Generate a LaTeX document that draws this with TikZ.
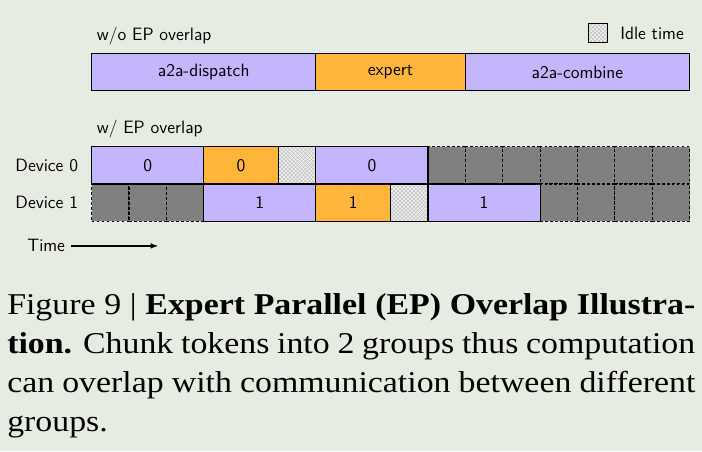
\documentclass[tikz,border=0pt]{standalone}
\usepackage{fontspec}
\newfontfamily\capfont[FakeStretch=1.12]{Liberation Serif}
\usepackage{tikz}
\usetikzlibrary{positioning, patterns}

\definecolor{bgcol}{RGB}{231,236,227}
\definecolor{commcol}{RGB}{196,181,253}
\definecolor{expcol}{RGB}{255,180,58}
\definecolor{idlecol}{RGB}{242,242,242}

\begin{document}
\begin{tikzpicture}[
        lbl/.style={font=\sffamily\fontsize{13.6}{16}\selectfont, inner sep=0pt},
        cell/.style={draw=black, line width=0.9pt, inner sep=0pt, anchor=south west,
        minimum height=1cm, font=\sffamily\fontsize{13.6}{16}\selectfont},
        comm/.style={cell, fill=commcol},
        compute/.style={cell, fill=expcol},
        idle/.style={cell, preaction={fill=idlecol}, pattern=crosshatch, pattern color=gray!50,
        minimum width=1cm},
        waitcell/.style={cell, fill=gray, dash pattern=on 2.2pt off 1.6pt, minimum width=1cm}]
        % background and page size
        \fill[bgcol] (-2.435,-6.127) rectangle (16.348,5.94);
        \useasboundingbox (-2.435,-6.127) rectangle (16.348,5.94);

        % without overlap
        \node[lbl, anchor=west] (woep) at (0.15,4.98) {w/o EP overlap};
        \node[comm, minimum width=6cm] (dispatch) at (0,3.5) {a2a-dispatch};
        \node[compute, minimum width=4cm] (expert) at (6,3.5) {expert};
        \node[comm, minimum width=6cm] (combine) at (10,3.5) {a2a-combine};

        % legend
        \node[idle, anchor=center, minimum width=0.5cm, minimum height=0.5cm] (legbox) at (13.57,5.06) {};
        \node[lbl, right=0.32cm of legbox] (legtxt) {Idle time};

        % with overlap
        \node[lbl, anchor=west] (wep) at (0.15,2.49) {w/ EP overlap};
        \foreach \x in {9,...,15}
            \node[waitcell] (w0\x) at (\x,1) {};
        \foreach \x in {0,1,2,12,13,14,15}
            \node[waitcell] (w1\x) at (\x,0) {};

        \node[comm, minimum width=3cm] (d0disp) at (0,1) {0};
        \node[compute, minimum width=2cm] (d0exp) at (3,1) {0};
        \node[idle] (d0idle) at (5,1) {};
        \node[comm, minimum width=3cm] (d0comb) at (6,1) {0};

        \node[comm, minimum width=3cm] (d1disp) at (3,0) {1};
        \node[compute, minimum width=2cm] (d1exp) at (6,0) {1};
        \node[idle] (d1idle) at (8,0) {};
        \node[comm, minimum width=3cm] (d1comb) at (9,0) {1};

        \node[lbl, left=0.34cm of d0disp] (dev0) {Device 0};
        \node[lbl, left=0.34cm of w10.west] (dev1) {Device 1};

        % time axis
        \node[lbl, anchor=west] (time) at (-1.71,-0.64) {Time};
        \coordinate (tend) at (1.79,-0.64);
        \draw[black, line width=0.9pt, -latex] ([xshift=0.15cm]time.east) -- (tend);

        % caption
        \node[anchor=base west, inner sep=0pt, text width=18.41cm, align=justify,
        font=\capfont\fontsize{23}{29.5}\selectfont] (caption) at (-2.248,-2.488)
        {Figure 9 | \textbf{Expert Parallel (EP) Overlap Illustra-}\linebreak
        \textbf{tion.} Chunk tokens into 2 groups thus computation\linebreak
        can overlap with communication between different\linebreak
        groups.};
    \end{tikzpicture}
\end{document}
